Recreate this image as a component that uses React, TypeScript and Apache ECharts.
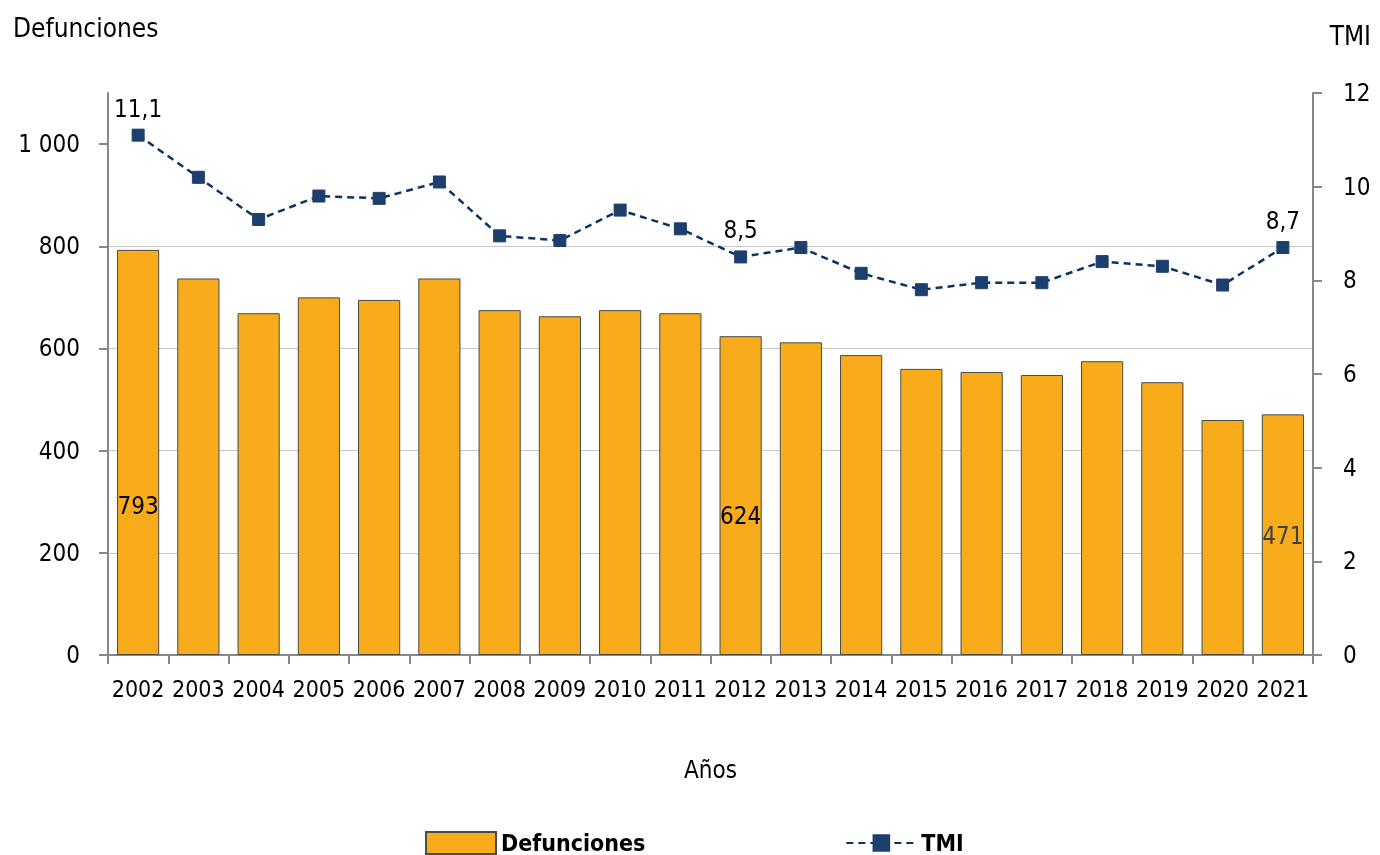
import React, { useEffect, useRef } from "react";
import * as echarts from "echarts";

const years = ["2002","2003","2004","2005","2006","2007","2008","2009","2010","2011","2012","2013","2014","2015","2016","2017","2018","2019","2020","2021"];
const defunciones = [793, 737, 669, 700, 695, 737, 675, 663, 675, 669, 624, 612, 587, 560, 554, 548, 575, 534, 460, 471];
const tmi = [11.1, 10.2, 9.3, 9.8, 9.75, 10.1, 8.95, 8.85, 9.5, 9.1, 8.5, 8.7, 8.15, 7.8, 7.95, 7.95, 8.4, 8.3, 7.9, 8.7];
const leftTicks = [0, 200, 400, 600, 800, 1000];
const labeledBars = ["2002", "2012", "2021"];
const labeledPoints = ["2002", "2012", "2021"];

const FONT = "'Liberation Sans Narrow', 'DejaVu Sans Condensed', 'Open Sans', sans-serif";

export default function App() {
  const ref = useRef<HTMLDivElement>(null);
  useEffect(() => {
    const chart = echarts.init(ref.current!, null, { renderer: "svg" });
    const barDist: Record<string, number> = { "2002": 137, "2012": 127, "2021": 107 };
    const barColor: Record<string, string> = { "2002": "#000", "2012": "#000", "2021": "#404040" };
    const fmtThousands = (v: number) => String(v).replace(/\B(?=(\d{3})+(?!\d))/g, " ");
    chart.setOption({
      animation: false,
      textStyle: { fontFamily: FONT },
      grid: { left: 108, right: 67, top: 93, bottom: 200 },
      title: [
        { text: "Defunciones", left: 8, top: 10, textStyle: { fontFamily: FONT, fontSize: 26, fontWeight: "normal", color: "#000" } },
        { text: "TMI", right: 4, top: 18, textStyle: { fontFamily: FONT, fontSize: 26, fontWeight: "normal", color: "#000" } },
      ],
      legend: {
        left: 420,
        top: 826,
        itemWidth: 70,
        itemHeight: 22,
        itemGap: 200,
        textStyle: { fontFamily: FONT, fontSize: 23, fontWeight: "bold", color: "#000" },
        data: [
          { name: "Defunciones", icon: "rect" },
          { name: "TMI" },
        ],
      },
      xAxis: {
        type: "category",
        data: years,
        boundaryGap: true,
        name: "Años",
        nameLocation: "middle",
        nameGap: 103,
        nameTextStyle: { fontFamily: FONT, fontSize: 24, color: "#000" },
        axisLine: { lineStyle: { color: "#888", width: 2 } },
        axisTick: { show: true, interval: 0, alignWithLabel: false, length: 9, lineStyle: { color: "#888", width: 2 } },
        axisLabel: { fontFamily: FONT, fontSize: 23, color: "#000", margin: 22, interval: 0 },
      },
      yAxis: [
        {
          type: "value",
          min: 0,
          max: 1100,
          interval: 200,
          axisLine: { show: true, lineStyle: { color: "#888", width: 2 } },
          axisTick: { show: true, length: 9, customValues: leftTicks, lineStyle: { color: "#888", width: 2 } },
          axisLabel: { fontFamily: FONT, fontSize: 24, color: "#000", margin: 28, customValues: leftTicks, formatter: (v: number) => fmtThousands(v) },
          splitLine: { show: true, showMaxLine: false, showMinLine: false, lineStyle: { color: "#c8c8c8", width: 1 } },
        },
        {
          type: "value",
          min: 0,
          max: 12,
          interval: 2,
          position: "right",
          axisLine: { show: true, lineStyle: { color: "#888", width: 2 } },
          axisTick: { show: true, length: 9, lineStyle: { color: "#888", width: 2 } },
          axisLabel: { fontFamily: FONT, fontSize: 24, color: "#000", margin: 30 },
          splitLine: { show: false },
        },
      ],
      series: [
        {
          name: "Defunciones",
          type: "bar",
          yAxisIndex: 0,
          barWidth: "70%",
          itemStyle: { color: "#F9AC1B", borderColor: "#4a4a4a", borderWidth: 1 },
          data: defunciones.map((v, i) => {
            const y = years[i];
            if (!labeledBars.includes(y)) return v;
            return {
              value: v,
              label: {
                show: true,
                position: "insideBottom",
                distance: barDist[y],
                fontFamily: FONT,
                fontSize: 24,
                color: barColor[y],
              },
            };
          }),
        },
        {
          name: "TMI",
          type: "line",
          yAxisIndex: 1,
          symbol: "rect",
          symbolSize: 12,
          itemStyle: { color: "#1D3F6E", borderColor: "#1D3F6E" },
          lineStyle: { color: "#0C3263", width: 2.5, type: [7, 5] },
          data: tmi.map((v, i) => {
            const y = years[i];
            if (!labeledPoints.includes(y)) return v;
            return {
              value: v,
              label: {
                show: true,
                position: "top",
                distance: 8,
                fontFamily: FONT,
                fontSize: 24,
                color: "#000",
                formatter: (p: any) => String(p.value).replace(".", ","),
              },
            };
          }),
        },
      ],
    });
    return () => chart.dispose();
  }, []);
  return <div ref={ref} style={{ position: "fixed", left: 0, top: 0, width: 1380, height: 855 }} />;
}
